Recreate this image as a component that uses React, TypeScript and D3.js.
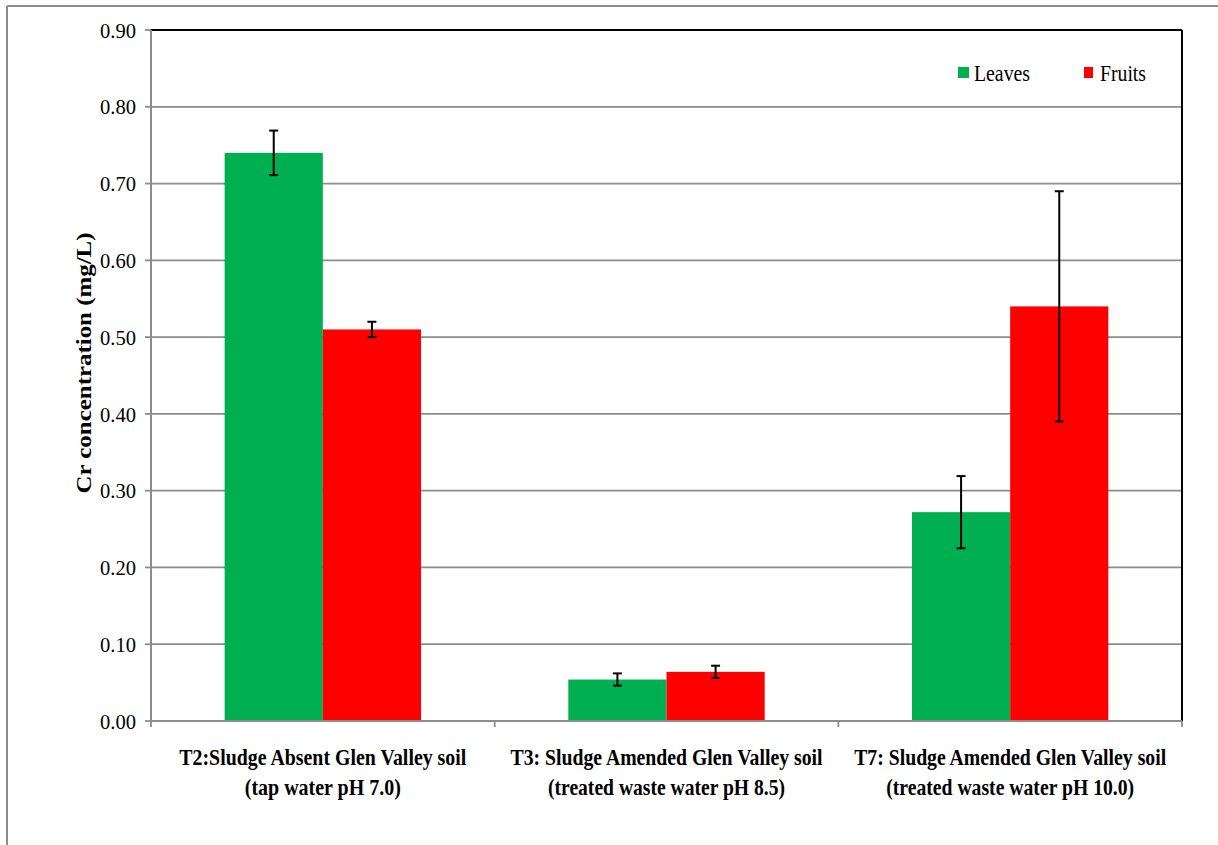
import React from "react";
import * as d3 from "d3";

// Treatments (two-line category labels)
const categories = ["T2", "T3", "T7"];
const labelLine1 = [
  "T2:Sludge Absent Glen Valley soil",
  "T3: Sludge Amended Glen Valley soil",
  "T7: Sludge Amended Glen Valley soil",
];
const labelLine2 = [
  "(tap water pH 7.0)",
  "(treated waste water pH 8.5)",
  "(treated waste water pH 10.0)",
];
// rendered widths of the condensed label lines
const labelWidth1 = [287, 312, 312];
const labelWidth2 = [156, 237, 248];

const seriesNames = ["Leaves", "Fruits"];
const seriesColors = ["#00b050", "#ff0000"];
const legendWidths = [56, 46];

// Mean Cr concentrations (mg/L) and error (±)
const leavesValues = [0.74, 0.054, 0.272];
const leavesErrors = [0.029, 0.008, 0.047];
const fruitsValues = [0.51, 0.064, 0.54];
const fruitsErrors = [0.01, 0.008, 0.15];

const yTicks = [0, 0.1, 0.2, 0.3, 0.4, 0.5, 0.6, 0.7, 0.8, 0.9];

const W = 1218;
const H = 845;
const plot = { left: 151, right: 1182, top: 30, bottom: 721 };
const FONT = "Liberation Serif";

export default function App() {
  const y = d3.scaleLinear().domain([0, 0.9]).range([plot.bottom, plot.top]);
  const x0 = d3
    .scaleBand<string>()
    .domain(categories)
    .range([plot.left, plot.right])
    .paddingInner(0)
    .paddingOuter(0);
  const bw = x0.bandwidth();
  const barW = bw / 3.5; // 150% gap width
  const x1 = d3
    .scaleBand<string>()
    .domain(seriesNames)
    .range([0.75 * barW, 2.75 * barW])
    .padding(0);

  const series = [
    { name: seriesNames[0], color: seriesColors[0], values: leavesValues, errors: leavesErrors },
    { name: seriesNames[1], color: seriesColors[1], values: fruitsValues, errors: fruitsErrors },
  ];

  const catEdges = [plot.left, ...categories.map((c) => (x0(c) ?? 0) + bw)];

  return (
    <svg width={W} height={H} style={{ position: "absolute", left: 0, top: 0, background: "#fff" }}>
      <style>{`text { font-family: "Liberation Serif", "Tinos", "Times New Roman", serif; }`}</style>

      {/* outer frame */}
      <line x1={7} x2={W} y1={6} y2={6} stroke="#8c8c8c" strokeWidth={2} />
      <line x1={7} x2={7} y1={6} y2={H} stroke="#8c8c8c" strokeWidth={2} />

      {/* gridlines */}
      {yTicks.slice(1, -1).map((t) => (
        <line key={t} x1={plot.left} x2={plot.right} y1={y(t)} y2={y(t)} stroke="#8c8c8c" strokeWidth={1.8} />
      ))}

      {/* plot frame top and right */}
      <line x1={plot.left} x2={plot.right} y1={plot.top} y2={plot.top} stroke="#000" strokeWidth={2} />
      <line x1={plot.right} x2={plot.right} y1={plot.top} y2={plot.bottom} stroke="#000" strokeWidth={2} />

      {/* bars */}
      {series.map((s) =>
        categories.map((c, i) => {
          const bx = (x0(c) ?? 0) + (x1(s.name) ?? 0);
          return (
            <rect
              key={s.name + c}
              x={bx}
              y={y(s.values[i])}
              width={x1.bandwidth()}
              height={y(0) - y(s.values[i])}
              fill={s.color}
            />
          );
        })
      )}

      {/* error bars */}
      {series.map((s) =>
        categories.map((c, i) => {
          const cx = (x0(c) ?? 0) + (x1(s.name) ?? 0) + x1.bandwidth() / 2;
          const hi = y(s.values[i] + s.errors[i]);
          const lo = y(s.values[i] - s.errors[i]);
          return (
            <g key={"e" + s.name + c} stroke="#000" strokeWidth={2}>
              <line x1={cx} x2={cx} y1={hi} y2={lo} />
              <line x1={cx - 4.5} x2={cx + 4.5} y1={hi} y2={hi} />
              <line x1={cx - 4.5} x2={cx + 4.5} y1={lo} y2={lo} />
            </g>
          );
        })
      )}

      {/* y axis */}
      <line x1={plot.left} x2={plot.left} y1={plot.top} y2={plot.bottom} stroke="#8c8c8c" strokeWidth={2} />
      {yTicks.map((t) => (
        <g key={"yt" + t}>
          <line x1={plot.left - 6} x2={plot.left} y1={y(t)} y2={y(t)} stroke="#8c8c8c" strokeWidth={1.8} />
          <text
            x={136}
            y={y(t)}
            dy="0.35em"
            textAnchor="end"
            fontSize={22}
            fill="#000"
            fontFamily={FONT}
            textLength={36}
            lengthAdjust="spacingAndGlyphs"
          >
            {d3.format(".2f")(t)}
          </text>
        </g>
      ))}

      {/* x axis */}
      <line x1={plot.left} x2={plot.right} y1={plot.bottom} y2={plot.bottom} stroke="#8c8c8c" strokeWidth={2} />
      {catEdges.map((ex, i) => (
        <line key={"xt" + i} x1={ex} x2={ex} y1={plot.bottom} y2={plot.bottom + 6} stroke="#8c8c8c" strokeWidth={1.8} />
      ))}
      {categories.map((c, i) => {
        const cx = (x0(c) ?? 0) + bw / 2;
        return (
          <g key={"xl" + c} fontSize={23} fontWeight="bold" fill="#000">
            <text
              x={cx - labelWidth1[i] / 2}
              y={765}
              fontFamily={FONT}
              textLength={labelWidth1[i]}
              lengthAdjust="spacingAndGlyphs"
            >
              {labelLine1[i]}
            </text>
            <text
              x={cx - labelWidth2[i] / 2}
              y={795}
              fontFamily={FONT}
              textLength={labelWidth2[i]}
              lengthAdjust="spacingAndGlyphs"
            >
              {labelLine2[i]}
            </text>
          </g>
        );
      })}

      {/* y axis title */}
      <text
        transform={`translate(91, ${363 + 261 / 2}) rotate(-90)`}
        fontSize={22}
        fontWeight="bold"
        fill="#000"
        fontFamily={FONT}
        textLength={261}
        lengthAdjust="spacingAndGlyphs"
      >
        Cr concentration (mg/L)
      </text>

      {/* legend */}
      {series.map((s, i) => {
        const lx = [958, 1084][i];
        return (
          <g key={"lg" + s.name}>
            <rect x={lx} y={67} width={i === 0 ? 11 : 9} height={11} fill={s.color} />
            <text
              x={lx + 16}
              y={81}
              fontSize={24}
              fill="#000"
              fontFamily={FONT}
              textLength={legendWidths[i]}
              lengthAdjust="spacingAndGlyphs"
            >
              {s.name}
            </text>
          </g>
        );
      })}
    </svg>
  );
}
